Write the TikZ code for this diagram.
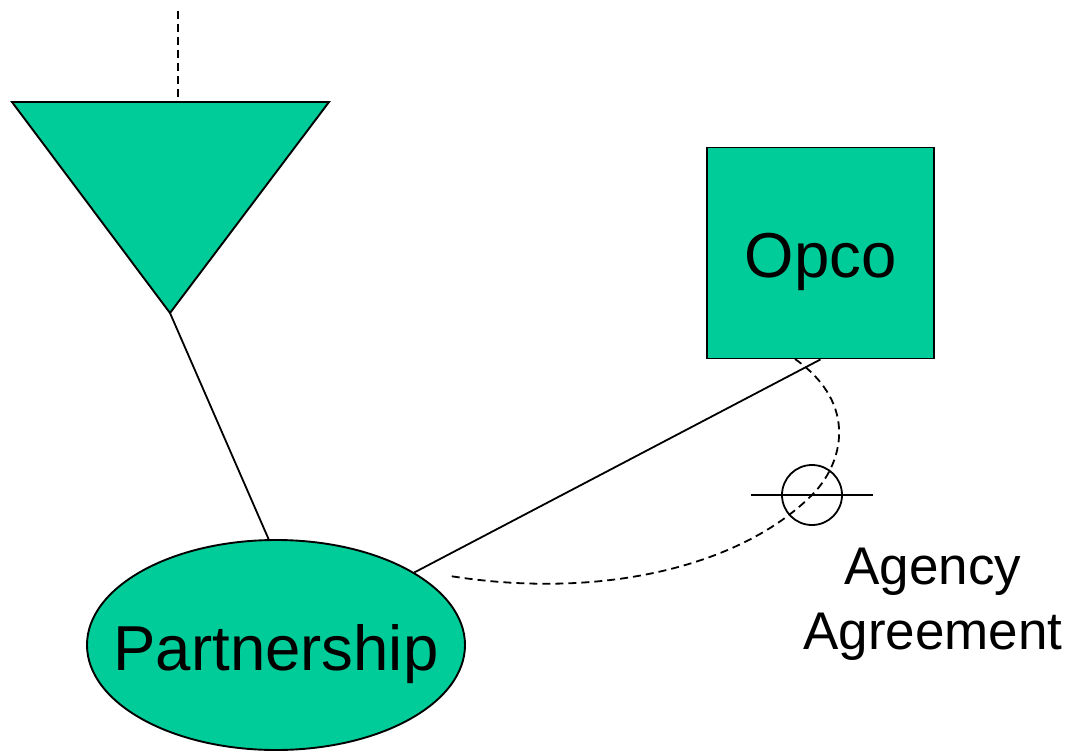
\documentclass[tikz,border=0pt]{standalone}
\usepackage{fontspec}
\setmainfont{Liberation Sans}
\usepackage{xcolor}
\usepackage{tikz}
\usetikzlibrary{calc}
\usetikzlibrary{shapes.geometric}
\definecolor{sea}{RGB}{0,204,153}

\begin{document}
\begin{tikzpicture}[x=1pt, y=-1pt,
    entity/.style={draw, fill=sea, line width=1.9pt, inner sep=0pt},
    bigtext/.style={font=\fontsize{63.5}{76}\selectfont, text height=50pt, text depth=0pt, inner sep=0pt},
    link/.style={line width=1.8pt},
    dashlink/.style={line width=1.8pt, dash pattern=on 8pt off 5pt}]
    \useasboundingbox (0,0) rectangle (1071,751);
    %KOORDINAT
    \coordinate (L) at (12,102);
    \coordinate (R) at (329,102);
    \coordinate (V) at (170,313);
    \coordinate (T) at (178,11);
    \coordinate (A1) at (795,359);
    \coordinate (A2) at (450,576);
    %SEGITIGA
    \filldraw[fill=sea, line width=1.9pt] (L) -- (R) -- (V) -- cycle;
    \draw[dashlink] (T) -- (T |- L);
    %ENTITAS
    \node[entity, ellipse, minimum width=378pt, minimum height=210pt] (part) at (276,645) {};
    \node[bigtext] (parttext) at (part.center) {Partnership};
    \node[entity, rectangle, minimum width=227pt, minimum height=211pt, bigtext] (opco) at (820.5,253) {Opco};
    %GARIS
    \draw[link] (V) -- (part.94);
    \draw[link] (opco.south) -- (part);
    %PERJANJIAN
    \node[draw, circle, line width=1.8pt, minimum size=60pt, inner sep=0pt] (seal) at (812,495) {};
    \draw[link] ([xshift=-30pt]seal.west) -- ([xshift=30pt]seal.east);
    \draw[dashlink] (A1) .. controls (860,405) and (842,465) .. (seal.center) .. controls (740,567) and (600,600) .. (A2);
    \node[anchor=north, align=center, inner sep=0pt, font=\fontsize{53}{65}\selectfont] (agtext) at (933,548) {Agency\\Agreement};
\end{tikzpicture}
\end{document}
